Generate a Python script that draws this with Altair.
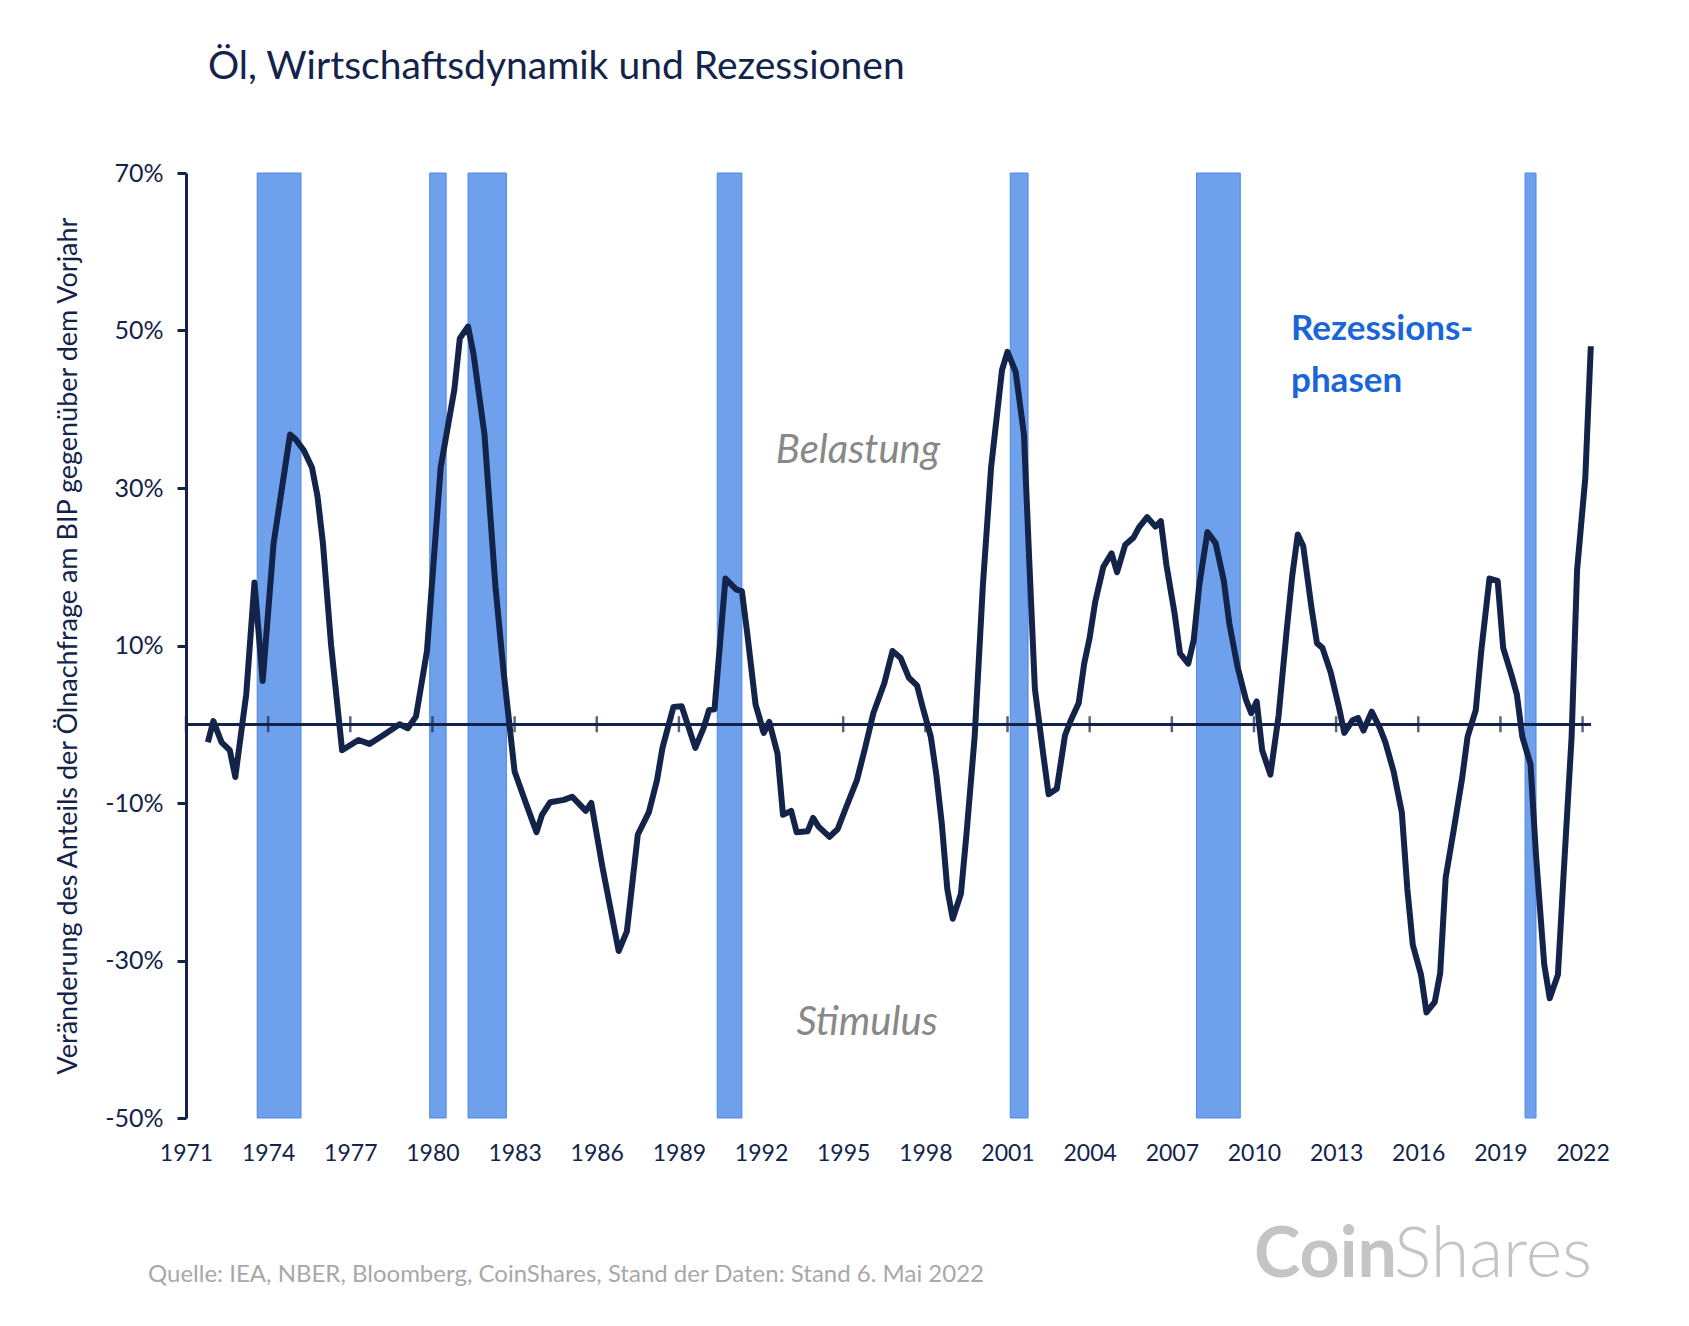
import pandas as pd
import altair as alt

# quarterly-ish readings of the line
years = [1971.8, 1972.0, 1972.3, 1972.6, 1972.8, 1973.2, 1973.5, 1973.8, 1974.2, 1974.8,
         1975.0, 1975.3, 1975.6, 1975.8, 1976.0, 1976.3, 1976.7, 1977.3, 1977.7, 1978.2,
         1978.8, 1979.1, 1979.4, 1979.8, 1980.3, 1980.8, 1981.0, 1981.3, 1981.5, 1981.9,
         1982.3, 1982.6, 1983.0, 1983.4, 1983.8, 1984.0, 1984.3, 1984.8, 1985.1, 1985.6,
         1985.8, 1986.2, 1986.8, 1987.1, 1987.5, 1987.9, 1988.2, 1988.4, 1988.8, 1989.1,
         1989.6, 1989.9, 1990.1, 1990.3, 1990.7, 1991.1, 1991.3, 1991.5, 1991.8, 1992.1,
         1992.3, 1992.6, 1992.8, 1993.1, 1993.3, 1993.7, 1993.9, 1994.1, 1994.5, 1994.8,
         1995.1, 1995.5, 1995.8, 1996.1, 1996.5, 1996.8, 1997.1, 1997.4, 1997.7, 1997.9,
         1998.2, 1998.4, 1998.6, 1998.8, 1999.0, 1999.3, 1999.5, 1999.8, 2000.1, 2000.4,
         2000.8, 2001.0, 2001.3, 2001.6, 2001.8, 2002.0, 2002.3, 2002.5, 2002.8, 2003.1,
         2003.3, 2003.6, 2003.8, 2004.0, 2004.2, 2004.5, 2004.8, 2005.0, 2005.3, 2005.6,
         2005.8, 2006.1, 2006.4, 2006.6, 2006.8, 2007.1, 2007.3, 2007.6, 2007.8, 2008.0,
         2008.3, 2008.6, 2008.9, 2009.1, 2009.4, 2009.7, 2009.9, 2010.1, 2010.3, 2010.6,
         2010.9, 2011.2, 2011.4, 2011.6, 2011.8, 2012.1, 2012.3, 2012.5, 2012.8, 2013.1,
         2013.3, 2013.6, 2013.8, 2014.0, 2014.3, 2014.6, 2014.8, 2015.1, 2015.4, 2015.6,
         2015.8, 2016.1, 2016.3, 2016.6, 2016.8, 2017.0, 2017.3, 2017.6, 2017.8, 2018.1,
         2018.3, 2018.6, 2018.9, 2019.1, 2019.4, 2019.6, 2019.8, 2020.1, 2020.3, 2020.6,
         2020.8, 2021.1, 2021.3, 2021.6, 2021.8, 2022.1, 2022.3]
values = [-2.3, 0.4, -2.3, -3.3, -6.7, 3.8, 18.0, 5.5, 23.0, 36.8,
          36.2, 34.8, 32.6, 29.0, 23.0, 10.0, -3.3, -2.0, -2.5, -1.4,
          0.0, -0.5, 1.0, 9.3, 32.6, 42.5, 49.0, 50.5, 47.0, 36.8,
          17.5, 6.6, -6.0, -9.9, -13.7, -11.5, -9.9, -9.6, -9.2, -11.0,
          -10.0, -18.0, -28.8, -26.3, -14.0, -11.2, -7.1, -3.0, 2.2, 2.3,
          -3.0, -0.5, 1.8, 1.9, 18.5, 17.1, 16.9, 11.4, 2.5, -1.1,
          0.3, -3.7, -11.5, -11.0, -13.7, -13.6, -11.9, -13.0, -14.3, -13.3,
          -10.6, -7.1, -3.0, 1.4, 5.2, 9.3, 8.4, 5.9, 4.9, 2.2,
          -1.6, -6.4, -12.6, -20.9, -24.7, -21.5, -14.0, -1.6, 17.6, 32.6,
          45.0, 47.3, 44.7, 36.8, 20.3, 4.5, -3.7, -8.9, -8.2, -1.4,
          0.4, 2.7, 7.7, 11.0, 15.5, 20.0, 21.7, 19.3, 22.8, 23.7,
          25.0, 26.3, 25.1, 25.8, 20.3, 14.1, 9.0, 7.7, 10.7, 17.6,
          24.4, 23.0, 18.2, 12.8, 7.3, 3.2, 1.4, 2.9, -3.3, -6.4,
          1.1, 12.1, 18.9, 24.1, 22.6, 14.8, 10.3, 9.7, 6.6, 2.2,
          -1.1, 0.5, 0.8, -0.8, 1.6, -0.5, -2.3, -6.0, -11.2, -20.9,
          -28.0, -31.8, -36.6, -35.3, -31.6, -19.5, -13.3, -6.9, -1.6, 1.8,
          9.3, 18.5, 18.2, 9.7, 6.3, 3.8, -1.6, -5.1, -16.7, -30.5,
          -34.8, -31.8, -19.5, -1.6, 19.6, 31.3, 48.0]

rec_start = [1973.6, 1979.9, 1981.3, 1990.4, 2001.1, 2007.9, 2019.9]
rec_end = [1975.2, 1980.5, 1982.7, 1991.3, 2001.75, 2009.5, 2020.3]

tick_years = list(range(1971, 2023, 3))
y_ticks = [-50, -30, -10, 10, 30, 50, 70]

navy = "#13234a"
font = "Lato"

line_df = pd.DataFrame({"year": years, "value": values})
rec_df = pd.DataFrame({"start": rec_start, "end": rec_end})
tick_df = pd.DataFrame({"year": tick_years, "zero": [0] * len(tick_years)})

W, H = 1413, 945
xs = alt.Scale(domain=[1971, 2022.6], nice=False, zero=False)
ys = alt.Scale(domain=[-50, 70], nice=False)

bands = alt.Chart(rec_df).mark_rect(color="#6ea0ec", stroke="#4f88e6", strokeWidth=1).encode(
    x=alt.X("start:Q", scale=xs, title=None,
            axis=alt.Axis(values=tick_years, format="d", domain=False, ticks=False, grid=False,
                          labelOverlap=False, labelFlush=False, labelFont=font, labelFontSize=23,
                          labelColor=navy, labelPadding=24)),
    x2="end:Q",
    y=alt.value(0),
    y2=alt.value(H),
)

zero = alt.Chart(tick_df).mark_rule(color=navy, strokeWidth=2.5).encode(
    y=alt.Y("zero:Q", scale=ys), x=alt.value(0), x2=alt.value(1405)
)
ticks = alt.Chart(tick_df).mark_tick(color=navy, thickness=2.5, size=16, orient="vertical").encode(
    x=alt.X("year:Q", scale=xs),
    y=alt.Y("zero:Q", scale=ys, title="Veränderung des Anteils der Ölnachfrage am BIP gegenüber dem Vorjahr",
            axis=alt.Axis(values=y_ticks, labelExpr="datum.value + '%'", grid=False,
                          domainColor=navy, domainWidth=3, tickColor=navy, tickWidth=3, tickSize=9,
                          labelFont=font, labelFontSize=25, labelColor=navy, labelPadding=14,
                          titleFont=font, titleFontSize=27, titleFontWeight="normal",
                          titleColor=navy, titlePadding=22)),
)

line = alt.Chart(line_df).mark_line(color=navy, strokeWidth=6, strokeJoin="round").encode(
    x=alt.X("year:Q", scale=xs), y=alt.Y("value:Q", scale=ys)
)


def label(text, x, y, size, color, style="normal", weight="normal", align="left"):
    return alt.Chart(pd.DataFrame({"t": [text]})).mark_text(
        font=font, fontSize=size, color=color, fontStyle=style, fontWeight=weight,
        align=align, baseline="middle"
    ).encode(text="t:N", x=alt.value(x), y=alt.value(y))


texts = [
    label("Öl, Wirtschaftsdynamik und Rezessionen", 22, -106, 39, navy),
    label("Belastung", 672, 278, 40, "#888888", style="italic", align="center"),
    label("Stimulus", 681, 850, 40, "#888888", style="italic", align="center"),
    label("Rezessions-", 1105, 156, 35, "#1a66d9", weight="bold"),
    label("phasen", 1105, 208, 35, "#1a66d9", weight="bold"),
    label("Quelle: IEA, NBER, Bloomberg, CoinShares, Stand der Daten: Stand 6. Mai 2022",
          -38, 1102, 24, "#a8a8a8"),
    label("Coin", 1068, 1083, 70, "#c4c4c4", weight="bold"),
    label("Shares", 1208, 1083, 70, "#c4c4c4", weight=300),
]

chart = alt.layer(bands, zero, ticks, line, *texts).properties(
    width=W, height=H,
    autosize=alt.AutoSizeParams(type="none"),
    padding={"left": 178, "top": 165, "right": 70, "bottom": 200},
).configure_view(stroke=None)

chart.save("out.html", embed_options={"renderer": "svg", "actions": False})
